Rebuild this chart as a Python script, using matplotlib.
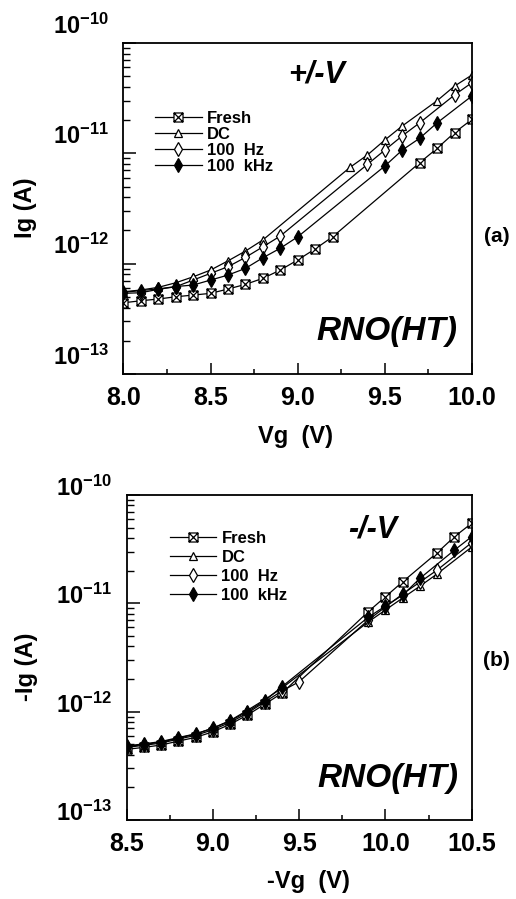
import matplotlib
matplotlib.use("Agg")
import matplotlib.pyplot as plt
import matplotlib.transforms as mtransforms
from matplotlib.path import Path
from matplotlib.ticker import FixedLocator, LogLocator, MultipleLocator, FormatStrFormatter, NullFormatter

plt.rcParams['font.family'] = ['Liberation Sans', 'DejaVu Sans']
plt.rcParams['font.weight'] = 'bold'
plt.rcParams['axes.labelweight'] = 'bold'
plt.rcParams['mathtext.fontset'] = 'custom'
plt.rcParams['mathtext.rm'] = 'Liberation Sans:bold'
plt.rcParams['mathtext.it'] = 'Liberation Sans:bold:italic'
plt.rcParams['mathtext.bf'] = 'Liberation Sans:bold'
plt.rcParams['mathtext.default'] = 'rm'

# ---- data, panel (a): +/-V stress, gate current vs Vg ----
vg_a_fresh = [8.0, 8.1, 8.2, 8.3, 8.4, 8.5, 8.6, 8.7, 8.8, 8.9, 9.0, 9.1, 9.2, 9.7, 9.8, 9.9, 10.0]
ig_a_fresh = [4.42e-13, 4.61e-13, 4.78e-13, 5.01e-13, 5.19e-13, 5.38e-13, 5.89e-13, 6.49e-13, 7.36e-13,
              8.75e-13, 1.08e-12, 1.36e-12, 1.75e-12, 8.22e-12, 1.11e-11, 1.54e-11, 2.03e-11]
vg_a_dc = [8.0, 8.1, 8.2, 8.3, 8.4, 8.5, 8.6, 8.7, 8.8, 9.3, 9.4, 9.5, 9.6, 9.8, 9.9, 10.0]
ig_a_dc = [5.56e-13, 5.77e-13, 6.10e-13, 6.71e-13, 7.60e-13, 8.75e-13, 1.06e-12, 1.30e-12, 1.64e-12,
           7.46e-12, 9.66e-12, 1.32e-11, 1.77e-11, 3.00e-11, 4.07e-11, 5.13e-11]
vg_a_100hz = [8.0, 8.1, 8.2, 8.3, 8.4, 8.5, 8.6, 8.7, 8.8, 8.9, 9.4, 9.5, 9.6, 9.7, 9.9, 10.0]
ig_a_100hz = [5.38e-13, 5.45e-13, 5.85e-13, 6.18e-13, 7.10e-13, 8.17e-13, 9.38e-13, 1.14e-12, 1.42e-12,
              1.78e-12, 7.94e-12, 1.07e-11, 1.44e-11, 1.89e-11, 3.38e-11, 4.37e-11]
vg_a_100khz = [8.0, 8.1, 8.2, 8.3, 8.4, 8.5, 8.6, 8.7, 8.8, 8.9, 9.0, 9.5, 9.6, 9.7, 9.8, 10.0]
ig_a_100khz = [5.5e-13, 5.7e-13, 5.9e-13, 6.2e-13, 6.4e-13, 7.1e-13, 7.88e-13, 9.06e-13, 1.13e-12,
               1.38e-12, 1.75e-12, 7.67e-12, 1.07e-11, 1.37e-11, 1.89e-11, 3.31e-11]

# ---- data, panel (b): -/-V stress, -Ig vs -Vg ----
vg_b_fresh = [8.5, 8.6, 8.7, 8.8, 8.9, 9.0, 9.1, 9.2, 9.3, 9.4, 9.9, 10.0, 10.1, 10.3, 10.4, 10.5]
ig_b_fresh = [4.49e-13, 4.68e-13, 4.92e-13, 5.35e-13, 5.79e-13, 6.52e-13, 7.64e-13, 9.31e-13, 1.17e-12,
              1.48e-12, 8.36e-12, 1.15e-11, 1.58e-11, 2.93e-11, 4.12e-11, 5.48e-11]
vg_b_dc = [8.5, 8.6, 8.7, 8.8, 8.9, 9.0, 9.1, 9.2, 9.3, 9.4, 9.9, 10.0, 10.1, 10.2, 10.3, 10.5]
ig_b_dc = [4.76e-13, 4.97e-13, 5.24e-13, 5.70e-13, 6.21e-13, 7.06e-13, 8.28e-13, 1.03e-12, 1.29e-12,
           1.65e-12, 6.72e-12, 8.68e-12, 1.12e-11, 1.44e-11, 1.87e-11, 3.31e-11]
vg_b_100hz = [8.5, 8.6, 8.7, 8.8, 8.9, 9.0, 9.1, 9.2, 9.3, 9.4, 9.5, 9.9, 10.0, 10.1, 10.2, 10.3, 10.5]
ig_b_100hz = [4.68e-13, 4.89e-13, 5.13e-13, 5.58e-13, 6.04e-13, 6.81e-13, 7.96e-13, 9.70e-13, 1.23e-12,
              1.55e-12, 1.89e-12, 7.01e-12, 9.25e-12, 1.22e-11, 1.57e-11, 2.03e-11, 3.63e-11]
vg_b_100khz = [8.5, 8.6, 8.7, 8.8, 8.9, 9.0, 9.1, 9.2, 9.3, 9.4, 9.9, 10.0, 10.1, 10.2, 10.4, 10.5]
ig_b_100khz = [4.83e-13, 5.04e-13, 5.30e-13, 5.77e-13, 6.24e-13, 7.03e-13, 8.22e-13, 1.00e-12, 1.26e-12,
               1.70e-12, 7.43e-12, 9.44e-12, 1.19e-11, 1.70e-11, 3.10e-11, 4.12e-11]

series_labels = ['Fresh', 'DC', '100  Hz', '100  kHz']
ytick_vals = [1e-13, 1e-12, 1e-11, 1e-10]
ytick_labels = [r'$10^{-13}$', r'$10^{-12}$', r'$10^{-11}$', r'$10^{-10}$']

# square with a cross inside
box_x = Path([(-1, -1), (1, -1), (1, 1), (-1, 1), (-1, -1), (-1, -1), (1, 1), (-1, 1), (1, -1)],
             [Path.MOVETO, Path.LINETO, Path.LINETO, Path.LINETO, Path.CLOSEPOLY,
              Path.MOVETO, Path.LINETO, Path.MOVETO, Path.LINETO])

styles = [dict(marker=box_x, ms=6.5, mfc='white'),
          dict(marker='^', ms=5.5, mfc='white'),
          dict(marker='d', ms=7, mfc='white'),
          dict(marker='d', ms=7, mfc='black')]


def panel(ax, data, xlim, xlab, ylab, tag, stress, leg_anchor, leg_space, lbl_shift, xlab_pos, ylab_pos, tag_y):
    for (x, y), st, lab in zip(data, styles, series_labels):
        ax.plot(x, y, color='black', lw=0.9, mec='black', mew=0.9, label=lab, **st)
    ax.set_yscale('log')
    ax.set_ylim(1e-13, 1e-10)
    ax.set_xlim(*xlim)
    ax.yaxis.set_major_locator(FixedLocator(ytick_vals))
    ax.set_yticklabels(ytick_labels)
    ax.yaxis.set_minor_locator(LogLocator(base=10, subs=range(2, 10), numticks=20))
    ax.yaxis.set_minor_formatter(NullFormatter())
    ax.xaxis.set_major_locator(MultipleLocator(0.5))
    ax.xaxis.set_minor_locator(MultipleLocator(0.25))
    ax.xaxis.set_major_formatter(FormatStrFormatter('%.1f'))
    ax.tick_params(axis='x', which='major', direction='in', length=8, width=1.1, pad=8.5, labelsize=18)
    ax.tick_params(axis='x', which='minor', direction='in', length=3.5, width=1.1)
    ax.tick_params(axis='y', which='major', direction='in', length=9, width=1.1, pad=51, labelsize=17)
    ax.tick_params(axis='y', which='minor', direction='in', length=5, width=1.0)
    for t in ax.yaxis.get_major_ticks():
        t.label1.set_horizontalalignment('left')
        t.label1.set_transform(t.label1.get_transform() +
                               mtransforms.ScaledTranslation(0, lbl_shift / 72, ax.figure.dpi_scale_trans))
    for s in ax.spines.values():
        s.set_linewidth(1.3)
    ax.set_xlabel(xlab, fontsize=17)
    ax.xaxis.set_label_coords(*xlab_pos)
    ax.set_ylabel(ylab, fontsize=17)
    ax.yaxis.set_label_coords(*ylab_pos)
    ax.text(1.072, tag_y, tag, transform=ax.transAxes, fontsize=15, ha='center', va='center')
    ax.text(stress[1], stress[2], stress[0], transform=ax.transAxes, fontsize=22, ha='center',
            va='center', style='italic')
    ax.text(0.756, 0.127, 'RNO(HT)', transform=ax.transAxes, fontsize=24, ha='center',
            va='center', style='italic')
    ax.legend(loc='upper left', bbox_to_anchor=leg_anchor, frameon=False, borderpad=0,
              borderaxespad=0, handlelength=2.8, handletextpad=0.3, labelspacing=leg_space,
              prop=dict(weight='bold', size=12))


fig = plt.figure(figsize=(5.16, 8.99), dpi=100)
ax1 = fig.add_axes([0.2393, 0.584, 0.6754, 0.3682])
ax2 = fig.add_axes([0.2455, 0.0879, 0.6686, 0.3615])

panel(ax1, [(vg_a_fresh, ig_a_fresh), (vg_a_dc, ig_a_dc), (vg_a_100hz, ig_a_100hz),
            (vg_a_100khz, ig_a_100khz)],
      (8.0, 10.0), 'Vg  (V)', 'Ig (A)', '(a)', ('+/-V', 0.555, 0.905), (0.09, 0.795), 0.07, 14,
      (0.495, -0.155), (-0.248, 0.503), 0.414)
panel(ax2, [(vg_b_fresh, ig_b_fresh), (vg_b_dc, ig_b_dc), (vg_b_100hz, ig_b_100hz),
            (vg_b_100khz, ig_b_100khz)],
      (8.5, 10.5), '-Vg  (V)', '-Ig (A)', '(b)', ('-/-V', 0.714, 0.895), (0.125, 0.89), 0.25, 6.5,
      (0.528, -0.155), (-0.257, 0.47), 0.49)

fig.savefig('out.png', dpi=100)
